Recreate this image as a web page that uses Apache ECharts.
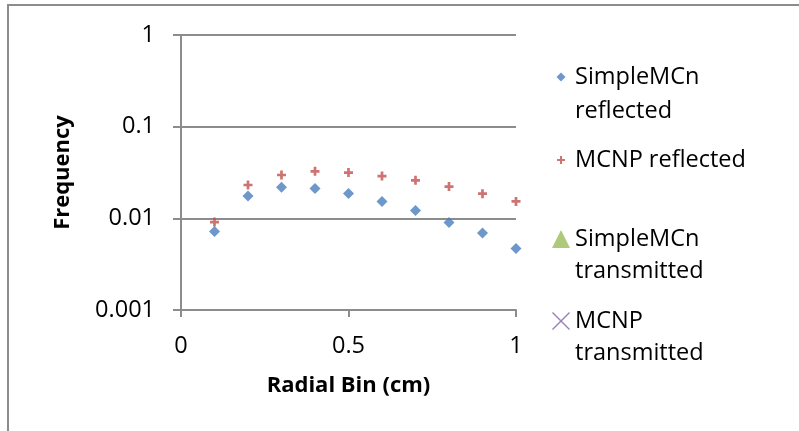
<!DOCTYPE html>
<html>
<head>
<meta charset="utf-8">
<script src="https://cdn.jsdelivr.net/npm/echarts@6/dist/echarts.min.js"></script>
<style>
  html, body { margin: 0; padding: 0; background: #fff; }
  #chart { width: 799px; height: 431px; }
</style>
</head>
<body>
<div id="chart"></div>
<script>
// radial bins (cm)
const radialBins = [0.1, 0.2, 0.3, 0.4, 0.5, 0.6, 0.7, 0.8, 0.9, 1.0];
const simpleReflected = [0.0072, 0.0175, 0.0218, 0.0211, 0.0187, 0.0153, 0.0122, 0.0090, 0.0069, 0.0047];
const mcnpReflected = [0.0091, 0.0231, 0.0297, 0.0326, 0.0316, 0.0289, 0.0260, 0.0222, 0.0186, 0.0153];
// transmitted series have no visible points
const simpleTransmitted = [];
const mcnpTransmitted = [];
const yTickLabels = ['0.001', '0.01', '0.1', '1'];
const seriesNames = ['SimpleMCn\nreflected', 'MCNP reflected', 'SimpleMCn\ntransmitted', 'MCNP\ntransmitted'];

const font = 'Open Sans';
const gridColor = '#8c8c8c';

const toPairs = (xs, ys) => ys.map((v, i) => [xs[i], v]);

// legend icons, padded inside an 18x18 box
const diamondIcon = 'path://M0 0M18 18M9 4.5L13.5 9L9 13.5L4.5 9Z';
const plusIcon = 'path://M0 0M18 18M8 5H10V8H13V10H10V13H8V10H5V8H8Z';
const crossIcon = 'path://M1 0L9 8L17 0L18 1L10 9L18 17L17 18L9 10L1 18L0 17L8 9L0 1Z';
const plusSymbol = 'path://M3.5 0H6.5V3.5H10V6.5H6.5V10H3.5V6.5H0V3.5H3.5Z';

// one legend per entry so the spacing can follow the original.
// two-line entries get an empty first line so the icon sits on line one
function legendFor(name, icon, top, lineHeight) {
  return {
    orient: 'vertical',
    left: 547,
    top: top,
    itemWidth: 18,
    itemHeight: 18,
    itemGap: 0,
    selectedMode: false,
    data: [{ name: name, icon: icon }],
    formatter: n => (n.indexOf('\n') >= 0 ? ' \n' + n : n),
    textStyle: { fontFamily: font, fontSize: 23.5, color: '#000', lineHeight: lineHeight }
  };
}

const chart = echarts.init(document.getElementById('chart'));

const option = {
  backgroundColor: '#fff',
  animation: false,
  graphic: [
    {
      type: 'rect',
      shape: { x: 8, y: 5, width: 900, height: 600 },
      style: { fill: 'none', stroke: '#8c8c8c', lineWidth: 2 }
    }
  ],
  grid: {
    left: 181,
    right: 283,
    top: 35,
    bottom: 121
  },
  legend: [
    legendFor(seriesNames[0], diamondIcon, 21, 34),
    legendFor(seriesNames[1], plusIcon, 138.5, 33),
    legendFor(seriesNames[2], 'triangle', 186, 32),
    legendFor(seriesNames[3], crossIcon, 268, 32)
  ],
  xAxis: {
    type: 'value',
    min: 0,
    max: 1,
    interval: 0.5,
    name: 'Radial Bin (cm)',
    nameLocation: 'middle',
    nameGap: 65,
    nameTextStyle: { fontFamily: font, fontSize: 22, fontWeight: 'bold', color: '#000' },
    axisLine: { show: true, lineStyle: { color: gridColor, width: 2 } },
    axisTick: { show: true, inside: false, length: 7, lineStyle: { color: gridColor, width: 2 } },
    axisLabel: { fontFamily: font, fontSize: 23.5, color: '#000', margin: 24 },
    splitLine: { show: false }
  },
  yAxis: {
    type: 'log',
    logBase: 10,
    min: 0.001,
    max: 1,
    name: 'Frequency',
    nameLocation: 'middle',
    nameGap: 107,
    nameTextStyle: { fontFamily: font, fontSize: 22, fontWeight: 'bold', color: '#000' },
    axisLine: { show: true, lineStyle: { color: gridColor, width: 2 } },
    axisTick: { show: true, inside: false, length: 8, lineStyle: { color: gridColor, width: 2 } },
    axisLabel: {
      fontFamily: font,
      fontSize: 23.5,
      color: '#000',
      margin: 26,
      formatter: v => yTickLabels[Math.round(Math.log10(v)) + 3]
    },
    splitLine: { show: true, lineStyle: { color: gridColor, width: 2 } }
  },
  series: [
    {
      name: seriesNames[0],
      type: 'scatter',
      symbol: 'diamond',
      symbolSize: 11,
      itemStyle: { color: '#4a7ebb' },
      data: toPairs(radialBins, simpleReflected)
    },
    {
      name: seriesNames[1],
      type: 'scatter',
      symbol: plusSymbol,
      symbolSize: 9,
      itemStyle: { color: '#c0504d' },
      data: toPairs(radialBins, mcnpReflected)
    },
    {
      name: seriesNames[2],
      type: 'scatter',
      symbol: 'triangle',
      symbolSize: 10,
      itemStyle: { color: '#9bbb59' },
      data: toPairs(radialBins, simpleTransmitted)
    },
    {
      name: seriesNames[3],
      type: 'scatter',
      symbol: crossIcon,
      symbolSize: 10,
      itemStyle: { color: '#8064a2' },
      data: toPairs(radialBins, mcnpTransmitted)
    }
  ]
};

chart.setOption(option);
</script>
</body>
</html>
